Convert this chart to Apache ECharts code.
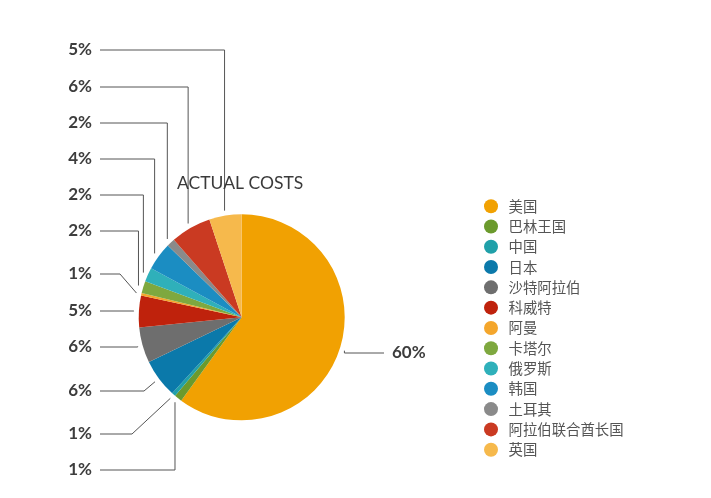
<!DOCTYPE html>
<html>
<head>
<meta charset="utf-8">
<script src="https://cdn.jsdelivr.net/npm/echarts@6/dist/echarts.min.js"></script>
<style>
html,body{margin:0;padding:0;background:#fff;}
#main{width:711px;height:498px;}
</style>
</head>
<body>
<div id="main"></div>
<script>
// ---- data ----
var countries = ['美国','巴林王国','中国','日本','沙特阿拉伯','科威特','阿曼','卡塔尔','俄罗斯','韩国','土耳其','阿拉伯联合酋长国','英国'];
var shares = [60.3, 1.2, 0.6, 6.1, 5.6, 5.0, 0.4, 1.9, 2.2, 4.4, 1.3, 6.4, 5.1];
var shareLabels = ['60%','1%','1%','6%','6%','5%','1%','2%','2%','4%','2%','6%','5%'];
var colors = ['#F1A102','#6B9A2D','#20A0A9','#0B79AA','#6E6E6E','#BF220C','#F4A62C','#7EA83F','#2FB0BA','#1B8DC2','#8A8A8A','#CA3A22','#F6B94C'];
var titleText = 'ACTUAL COSTS';

// ---- layout (positions of callout labels) ----
var cx = 241.7, cy = 317.3, R = 103;
var labelY = [353, 470, 434, 391, 347, 311, 274, 231, 195, 159, 123, 87, 50];
var elbowX = [null, null, 132, 144, null, null, 120, null, null, null, null, null, null];

var total = shares.reduce(function(a,b){return a+b;},0);
var cum = [];
(function(){ var c = 0; for (var i=0;i<shares.length;i++){ cum.push(c); c += shares[i]; } })();

var chart = echarts.init(document.getElementById('main'));
chart.setOption({
  backgroundColor: '#fff',
  animation: false,
  title: {
    text: titleText,
    left: 177, top: 174, padding: 0,
    textStyle: { fontFamily: 'Lato', fontWeight: 'normal', fontSize: 17.5, color: '#3a3a3a' }
  },
  legend: {
    orient: 'vertical',
    left: 484, top: 199,
    itemWidth: 25, itemHeight: 14, itemGap: 5.9,
    icon: 'circle',
    padding: 0,
    textStyle: { fontFamily: 'Noto Sans CJK SC', fontSize: 14.4, color: '#555' },
    data: countries
  },
  color: colors,
  series: [{
    type: 'pie',
    center: [cx, cy],
    radius: [0, R],
    startAngle: 90,
    clockwise: true,
    avoidLabelOverlap: false,
    itemStyle: { borderWidth: 0 },
    label: {
      show: true,
      position: 'outside',
      formatter: function(p){ return shareLabels[p.dataIndex]; },
      fontFamily: 'Lato', fontWeight: 'bold', fontSize: 17, color: '#3d3d3d'
    },
    labelLine: { show: true, length: 10, length2: 10, smooth: false, lineStyle: { color: '#555', width: 1 } },
    labelLayout: function (p) {
      var i = p.dataIndex;
      var a = (cum[i] + shares[i] / 2) / total * 2 * Math.PI;
      var sx = cx + (R + 5) * Math.sin(a);
      var sy = cy - (R + 5) * Math.cos(a);
      var ly = labelY[i];
      var right = sx > cx;
      var tx = right ? 384 : 100;
      var ex = elbowX[i] != null ? elbowX[i] : sx;
      return {
        x: right ? 392 : 92,
        y: ly,
        align: right ? 'left' : 'right',
        verticalAlign: 'middle',
        labelLinePoints: [[sx, sy], [ex, ly], [tx, ly]]
      };
    },
    data: countries.map(function(n, i){ return { name: n, value: shares[i] }; })
  }]
});
</script>
</body>
</html>
